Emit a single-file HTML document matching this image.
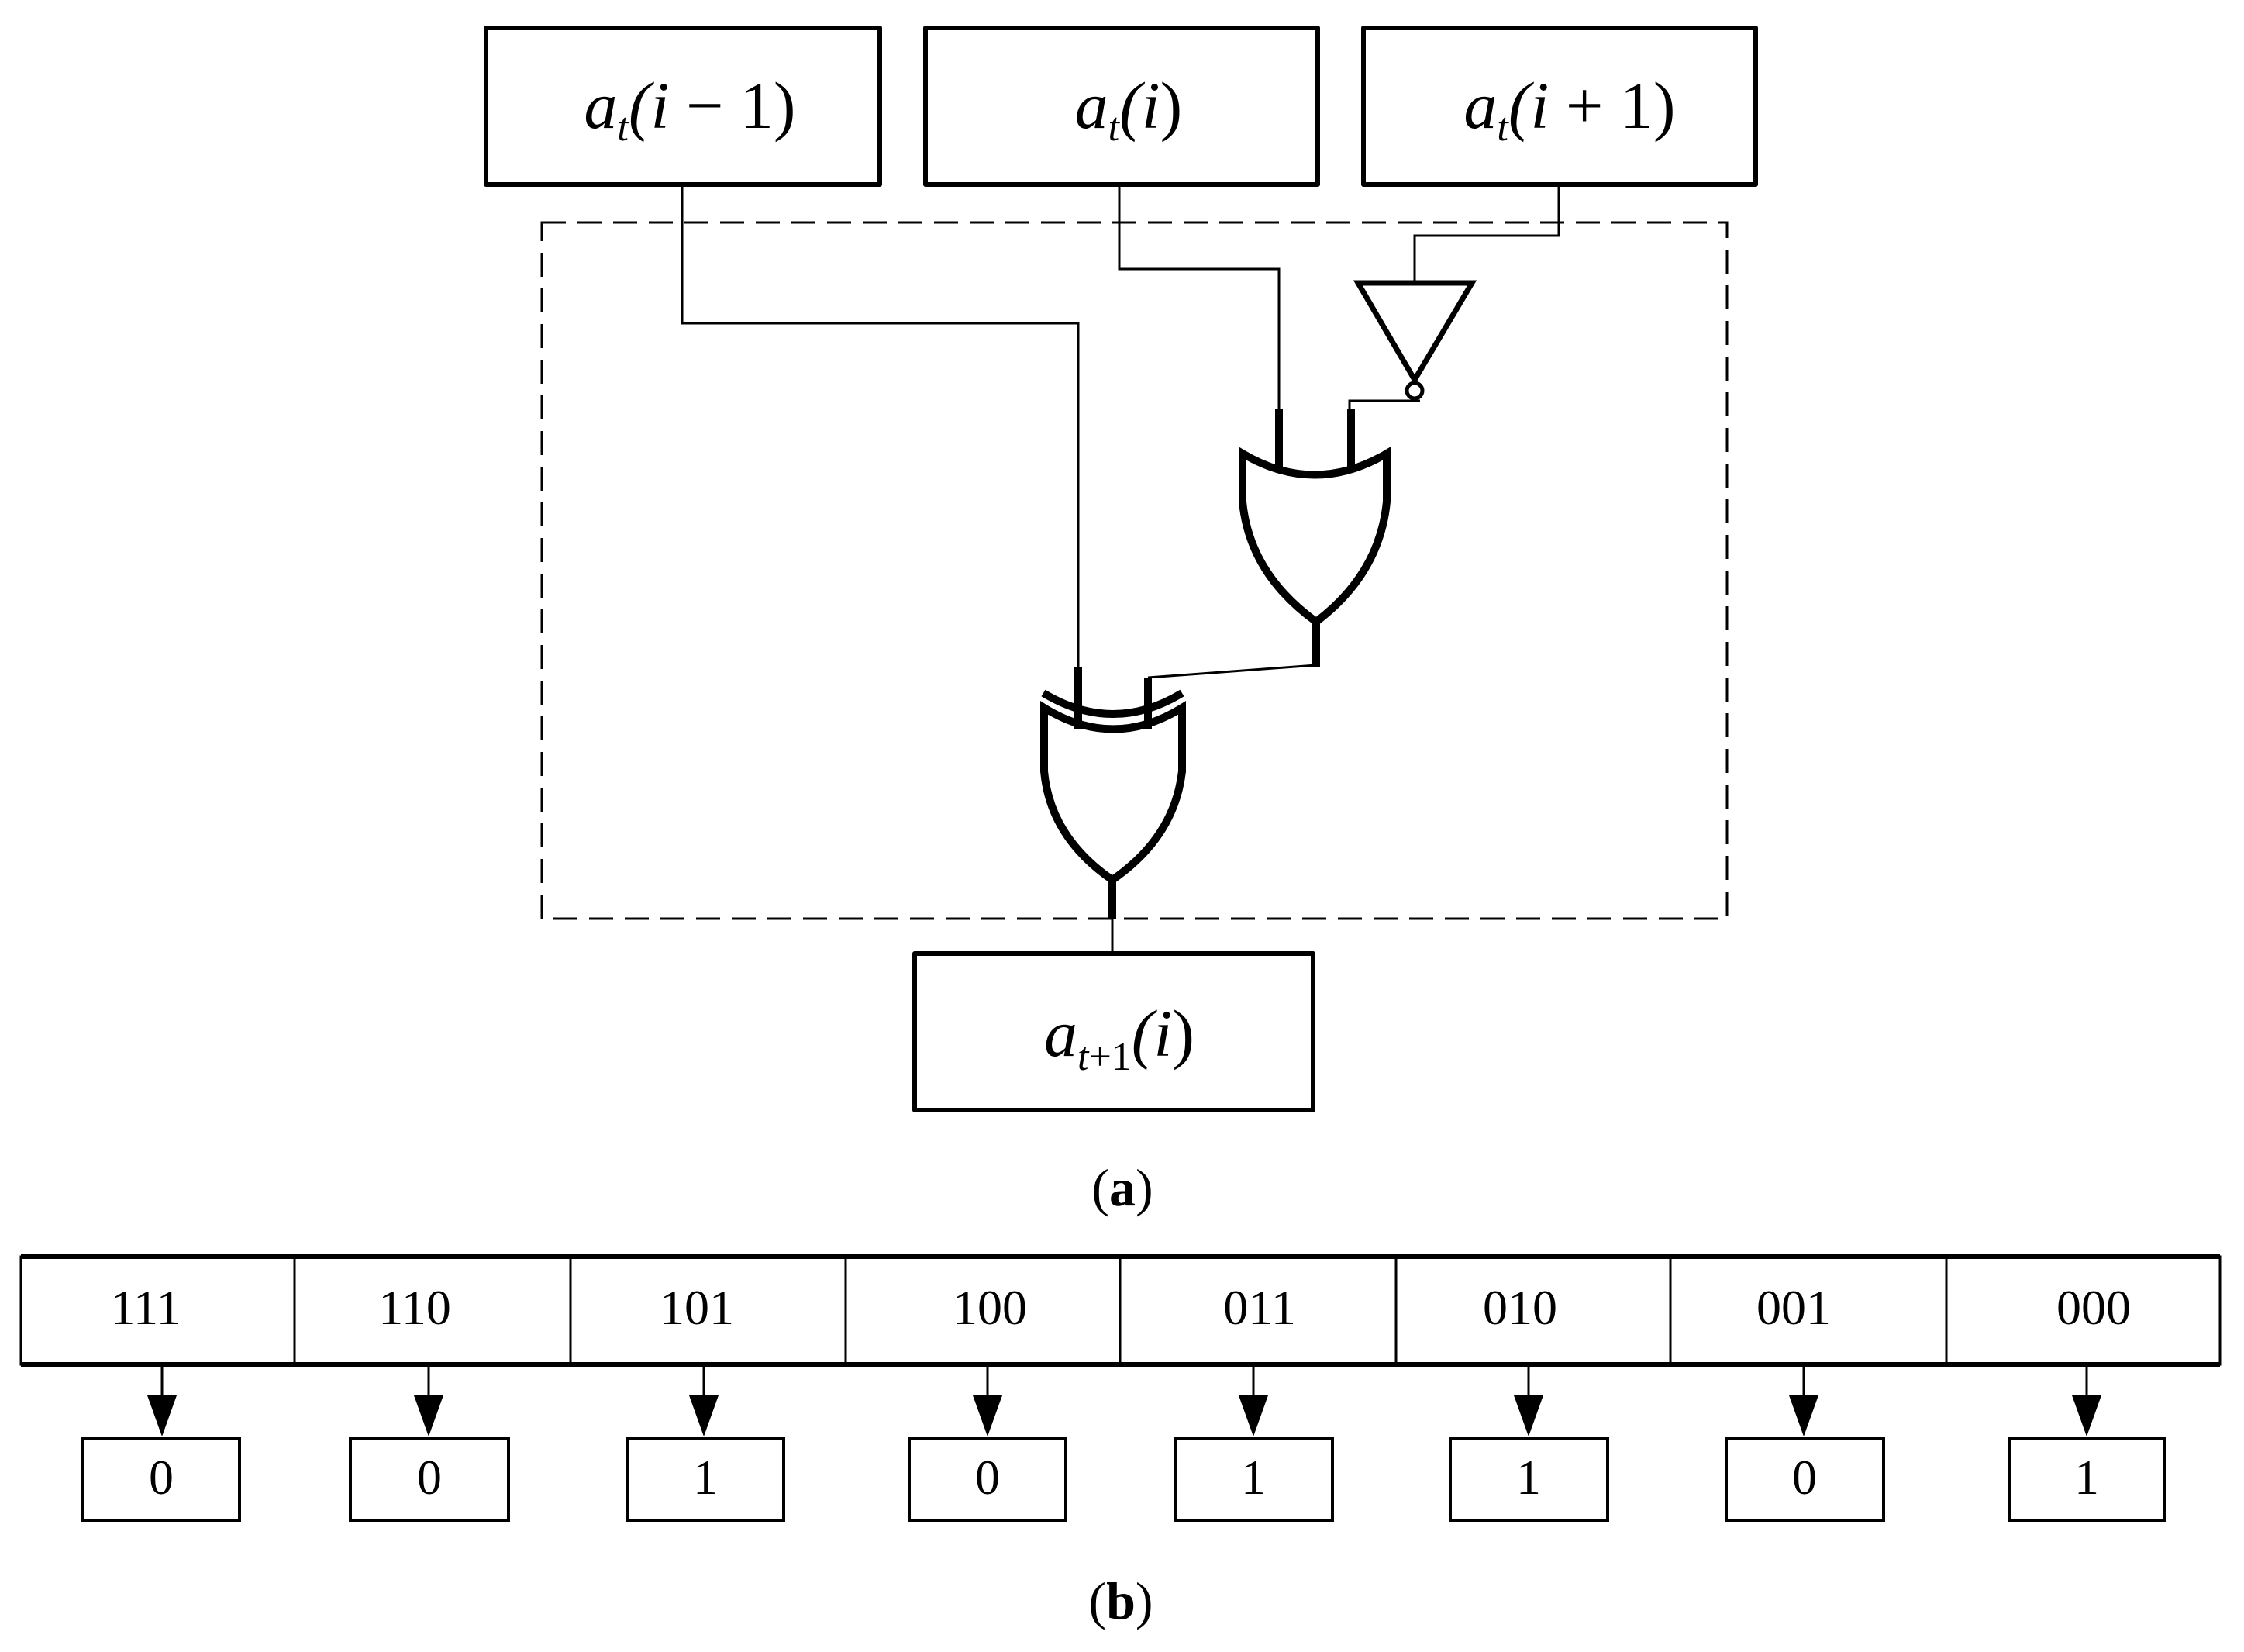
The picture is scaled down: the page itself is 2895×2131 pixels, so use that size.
<!DOCTYPE html>
<html><head><meta charset="utf-8"><style>html,body{margin:0;padding:0;background:#fff}svg{display:block}</style></head>
<body>
<svg width="2895" height="2131" viewBox="0 0 2895 2131" xmlns="http://www.w3.org/2000/svg" font-family="'Liberation Serif', serif">
<rect width="2895" height="2131" fill="#fff"/>
<g fill="none" stroke="#000" stroke-width="6" stroke-linejoin="round">
<rect x="627" y="36" width="508" height="202"/>
<rect x="1194" y="36" width="506" height="202"/>
<rect x="1759" y="36" width="506" height="202"/>
<rect x="1180" y="1230" width="514" height="202"/>
</g>
<rect x="699" y="287" width="1529" height="898" fill="none" stroke="#000" stroke-width="3" stroke-dasharray="31 15"/>
<g fill="none" stroke="#000" stroke-width="3">
<polyline points="880,238 880,417 1391,417 1391,860"/>
<polyline points="1444,238 1444,347 1650,347 1650,528"/>
<polyline points="2011,238 2011,304 1825,304 1825,365"/>
<polyline points="1832,517 1741,517 1741,530"/>
<polyline points="1698,858 1481,874"/>
<line x1="1435" y1="1184" x2="1435" y2="1230"/>
</g>
<g fill="none" stroke="#000" stroke-width="7" stroke-linejoin="miter">
<polygon points="1752,365 1899,365 1825,490"/>
<circle cx="1825" cy="504" r="10" stroke-width="5"/>
</g>
<g fill="none" stroke="#000" stroke-width="10">
<line x1="1650" y1="528" x2="1650" y2="606"/>
<line x1="1743" y1="528" x2="1743" y2="606"/>
<path d="M1603,585 Q1696,640 1789,585 L1789,647 Q1780,740 1698,802 Q1612,740 1603,647 Z"/>
<line x1="1698" y1="802" x2="1698" y2="860"/>
<line x1="1391" y1="860" x2="1391" y2="940"/>
<line x1="1481" y1="874" x2="1481" y2="940"/>
<path d="M1346,894 Q1436,948 1525,894"/>
<path d="M1347,913 Q1436,968 1525,913 L1525,995 Q1515,1080 1435,1135 Q1355,1080 1347,995 Z"/>
<line x1="1435" y1="1135" x2="1435" y2="1186"/>
</g>
<g font-style="italic" font-size="86">
<text x="890" y="165" text-anchor="middle">a<tspan font-size="52" dy="16">t</tspan><tspan dy="-16">(i</tspan><tspan font-style="normal"> − 1)</tspan></text>
<text x="1456" y="165" text-anchor="middle">a<tspan font-size="52" dy="16">t</tspan><tspan dy="-16">(i</tspan><tspan font-style="normal">)</tspan></text>
<text x="2025" y="165" text-anchor="middle">a<tspan font-size="52" dy="16">t</tspan><tspan dy="-16">(i</tspan><tspan font-style="normal"> + 1)</tspan></text>
<text x="1444" y="1362" text-anchor="middle">a<tspan font-size="52" dy="18">t</tspan><tspan font-size="52" font-style="normal">+1</tspan><tspan dy="-18">(i</tspan><tspan font-style="normal">)</tspan></text>
</g>
<text x="1448" y="1555" text-anchor="middle" font-size="68">(<tspan font-weight="bold">a</tspan>)</text>
<text x="1446" y="2088" text-anchor="middle" font-size="68">(<tspan font-weight="bold">b</tspan>)</text>
<g stroke="#000" fill="none">
<rect x="27" y="1621" width="2837" height="139" stroke-width="3"/>
<line x1="27" y1="1621" x2="2864" y2="1621" stroke-width="6"/>
<line x1="27" y1="1760" x2="2864" y2="1760" stroke-width="6"/>
<g stroke-width="3">
<line x1="380" y1="1621" x2="380" y2="1760"/><line x1="736" y1="1621" x2="736" y2="1760"/>
<line x1="1091" y1="1621" x2="1091" y2="1760"/><line x1="1445" y1="1621" x2="1445" y2="1760"/>
<line x1="1801" y1="1621" x2="1801" y2="1760"/><line x1="2155" y1="1621" x2="2155" y2="1760"/>
<line x1="2511" y1="1621" x2="2511" y2="1760"/>
</g>
</g>
<g font-size="64" text-anchor="middle">
<text x="188" y="1708">111</text><text x="535" y="1708">110</text><text x="899" y="1708">101</text><text x="1277" y="1708">100</text>
<text x="1625" y="1708">011</text><text x="1961" y="1708">010</text><text x="2314" y="1708">001</text><text x="2701" y="1708">000</text>
</g>
<g stroke="#000" stroke-width="3">
<line x1="209" y1="1760" x2="209" y2="1805"/><polygon points="190,1800 228,1800 209,1853" fill="#000" stroke="none"/>
<line x1="553" y1="1760" x2="553" y2="1805"/><polygon points="534,1800 572,1800 553,1853" fill="#000" stroke="none"/>
<line x1="908" y1="1760" x2="908" y2="1805"/><polygon points="889,1800 927,1800 908,1853" fill="#000" stroke="none"/>
<line x1="1274" y1="1760" x2="1274" y2="1805"/><polygon points="1255,1800 1293,1800 1274,1853" fill="#000" stroke="none"/>
<line x1="1617" y1="1760" x2="1617" y2="1805"/><polygon points="1598,1800 1636,1800 1617,1853" fill="#000" stroke="none"/>
<line x1="1972" y1="1760" x2="1972" y2="1805"/><polygon points="1953,1800 1991,1800 1972,1853" fill="#000" stroke="none"/>
<line x1="2327" y1="1760" x2="2327" y2="1805"/><polygon points="2308,1800 2346,1800 2327,1853" fill="#000" stroke="none"/>
<line x1="2692" y1="1760" x2="2692" y2="1805"/><polygon points="2673,1800 2711,1800 2692,1853" fill="#000" stroke="none"/>
</g>
<g fill="none" stroke="#000" stroke-width="4">
<rect x="107" y="1856" width="202" height="105"/><rect x="452" y="1856" width="204" height="105"/>
<rect x="809" y="1856" width="202" height="105"/><rect x="1173" y="1856" width="202" height="105"/>
<rect x="1516" y="1856" width="203" height="105"/><rect x="1871" y="1856" width="203" height="105"/>
<rect x="2227" y="1856" width="203" height="105"/><rect x="2592" y="1856" width="201" height="105"/>
</g>
<g font-size="64" text-anchor="middle">
<text x="208" y="1927">0</text><text x="554" y="1927">0</text><text x="910" y="1927">1</text><text x="1274" y="1927">0</text>
<text x="1617" y="1927">1</text><text x="1972" y="1927">1</text><text x="2328" y="1927">0</text><text x="2692" y="1927">1</text>
</g>
</svg>
</body></html>
